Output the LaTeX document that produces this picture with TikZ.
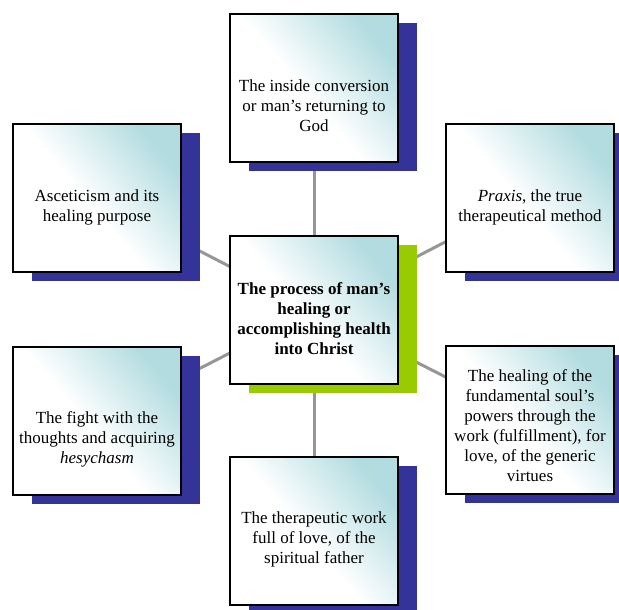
\documentclass[tikz,border=0pt]{standalone}
\usepackage{fontspec}
\setmainfont{Liberation Serif}
\usetikzlibrary{shadows,backgrounds}
\definecolor{boxteal}{HTML}{B2DCE0}
\definecolor{shblue}{HTML}{333399}
\definecolor{shgreen}{HTML}{99CC00}
\definecolor{conngray}{HTML}{969696}
\pgfdeclarehorizontalshading{cardshade}{100bp}{color(0bp)=(white); color(47bp)=(white); color(61bp)=(white!50!boxteal); color(75bp)=(boxteal); color(100bp)=(boxteal)}
\tikzset{
  card/.style={draw=black, line width=1.3pt, minimum width=168pt, minimum height=148pt,
    inner sep=0pt, shading=cardshade, shading angle=40},
  blueshadow/.style={general shadow={fill=shblue, shadow xshift=19pt, shadow yshift=-9pt}},
  greenshadow/.style={general shadow={fill=shgreen, shadow xshift=19pt, shadow yshift=-9pt}},
  txt/.style={align=center, inner sep=0pt, font=\fontsize{17}{20}\selectfont},
  conn/.style={draw=conngray, line width=3pt}
}
\begin{document}
\begin{tikzpicture}[x=1pt, y=-1pt]
\useasboundingbox (0,0) rectangle (619,610);
% boxes
\node[card, blueshadow] (top) at (314,88) {};
\node[card, blueshadow] (asc) at (97,198) {};
\node[card, blueshadow] (prx) at (530,198) {};
\node[card, greenshadow] (ctr) at (314,310) {};
\node[card, blueshadow] (fgt) at (97,421) {};
\node[card, blueshadow] (hea) at (530,420) {};
\node[card, blueshadow] (bot) at (314,531) {};
% texts
\node[txt] (ttop) at (314,106) {The inside conversion\\or man’s returning to\\God};
\node[txt] (tasc) at (97,207) {Asceticism and its\\healing purpose};
\node[txt] (tprx) at (530,207) {\textit{Praxis}, the true\\therapeutical method};
\node[txt, font=\fontsize{17}{20}\selectfont\bfseries] (tctr) at (314,319) {The process of man’s\\healing or\\accomplishing health\\into Christ};
\node[txt] (tfgt) at (97,439) {The fight with the\\thoughts and acquiring\\\textit{hesychasm}};
\node[txt] (thea) at (530,426) {The healing of the\\fundamental soul’s\\powers through the\\work (fulfillment), for\\love, of the generic\\virtues};
\node[txt] (tbot) at (314,539) {The therapeutic work\\full of love, of the\\spiritual father};
% connectors
\begin{pgfonlayer}{background}
\draw[conn] (top.center) -- (ctr.center);
\draw[conn] (bot.center) -- (ctr.center);
\draw[conn] (asc.center) -- (ctr.center);
\draw[conn] (prx.center) -- (ctr.center);
\draw[conn] (fgt.center) -- (ctr.center);
\draw[conn] (hea.center) -- (ctr.center);
\end{pgfonlayer}
\end{tikzpicture}
\end{document}
